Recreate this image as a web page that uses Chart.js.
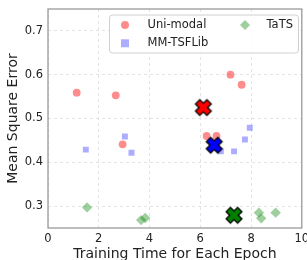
<!DOCTYPE html>
<html>
<head>
<meta charset="utf-8">
<script src="https://cdn.jsdelivr.net/npm/chart.js@4.4.1/dist/chart.umd.min.js"></script>
<style>
  html, body { margin: 0; padding: 0; background: #fff; }
</style>
</head>
<body>
<canvas id="chart" width="307" height="260"></canvas>
<script>
// data
const uniX  = [1.13, 2.67, 7.19, 7.63, 2.94, 6.25, 6.64];
const uniY  = [0.559, 0.553, 0.600, 0.577, 0.441, 0.460, 0.460];
const mmX   = [1.49, 3.03, 3.29, 6.81, 7.33, 7.76, 7.95];
const mmY   = [0.429, 0.459, 0.422, 0.425, 0.425, 0.452, 0.479];
const tatsX = [1.54, 3.67, 3.83, 8.31, 8.40, 8.97];
const tatsY = [0.297, 0.268, 0.273, 0.285, 0.272, 0.285];
// averages (big X markers)
const avgX = [6.12, 6.55, 7.33];
const avgY = [0.525, 0.439, 0.279];

const xTicks = [0, 2, 4, 6, 8, 10];
const yTicks = [0.3, 0.4, 0.5, 0.6, 0.7];

const FONT = 'DejaVu Sans';
const red = 'rgba(255,0,0,0.45)';
const blue = 'rgba(0,0,255,0.32)';
const green = 'rgba(0,128,0,0.38)';

function toPts(xs, ys) {
    return xs.map((x, i) => ({ x: x, y: ys[i] }));
}

// filled X marker with black outline
function makeX(color) {
    const c = document.createElement('canvas');
    c.width = 20; c.height = 20;
    const g = c.getContext('2d');
    const d = 3.6;
    g.lineCap = 'square';
    const cross = (w, col) => {
        g.strokeStyle = col;
        g.lineWidth = w;
        g.beginPath();
        g.moveTo(10 - d, 10 - d); g.lineTo(10 + d, 10 + d);
        g.moveTo(10 + d, 10 - d); g.lineTo(10 - d, 10 + d);
        g.stroke();
    };
    cross(7.4, '#000');
    cross(4.8, color);
    return c;
}

const frameAndLegend = {
    id: 'frameAndLegend',
    afterDatasetsDraw(chart) {
        const { ctx, chartArea: a } = chart;
        ctx.save();
        ctx.strokeStyle = '#9a9a9a';
        ctx.lineWidth = 1.3;
        ctx.strokeRect(a.left, a.top, a.right - a.left, a.bottom - a.top);

        // legend box
        const bx = 109.5, by = 15, bw = 189, bh = 38;
        ctx.fillStyle = 'rgba(255,255,255,0.9)';
        ctx.strokeStyle = '#d0d0d0';
        ctx.lineWidth = 1;
        ctx.beginPath();
        ctx.roundRect(bx, by, bw, bh, 3);
        ctx.fill();
        ctx.stroke();

        ctx.font = '11.5px ' + FONT;
        ctx.textBaseline = 'middle';
        ctx.textAlign = 'left';

        // Uni-modal
        ctx.fillStyle = red;
        ctx.beginPath(); ctx.arc(125, 25, 4, 0, Math.PI * 2); ctx.fill();
        // MM-TSFLib
        ctx.fillStyle = blue;
        ctx.fillRect(121, 39.3, 8, 8);
        // TaTS
        ctx.fillStyle = green;
        ctx.beginPath();
        ctx.moveTo(245, 20); ctx.lineTo(250, 25); ctx.lineTo(245, 30); ctx.lineTo(240, 25);
        ctx.closePath(); ctx.fill();

        ctx.fillStyle = '#222';
        ctx.fillText('Uni-modal', 147.5, 25.5);
        ctx.fillText('MM-TSFLib', 147.5, 43.5);
        ctx.fillText('TaTS', 266.5, 25.5);
        ctx.restore();
    }
};

new Chart(document.getElementById('chart'), {
    type: 'scatter',
    data: {
        datasets: [
            { label: 'Uni-modal', data: toPts(uniX, uniY), backgroundColor: red, borderWidth: 0, pointRadius: 3.9, pointStyle: 'circle', order: 2 },
            { label: 'MM-TSFLib', data: toPts(mmX, mmY), backgroundColor: blue, borderWidth: 0, pointRadius: 4.2, pointStyle: 'rect', order: 2 },
            { label: 'TaTS', data: toPts(tatsX, tatsY), backgroundColor: green, borderWidth: 0, pointRadius: 5.2, pointStyle: 'rectRot', order: 2 },
            { label: 'avg uni', data: [{ x: avgX[0], y: avgY[0] }], pointStyle: makeX('#ff0000'), order: 1 },
            { label: 'avg mm', data: [{ x: avgX[1], y: avgY[1] }], pointStyle: makeX('#0000ff'), order: 1 },
            { label: 'avg tats', data: [{ x: avgX[2], y: avgY[2] }], pointStyle: makeX('#008000'), order: 1 }
        ]
    },
    options: {
        responsive: false,
        animation: false,
        events: [],
        layout: { padding: { top: 9, right: 4, left: 0, bottom: 0 } },
        plugins: { legend: { display: false }, tooltip: { enabled: false } },
        scales: {
            x: {
                type: 'linear',
                min: 0, max: 10,
                afterBuildTicks: s => { s.ticks = xTicks.map(v => ({ value: v })); },
                afterFit: s => { s.height = 32; s.paddingLeft = 0; s.paddingRight = 0; },
                grid: { color: '#dddddd', lineWidth: 0.8, drawTicks: false },
                border: { display: false, dash: [3, 3] },
                ticks: { color: '#222', padding: 4, font: { family: FONT, size: 11.5 }, maxRotation: 0 },
                title: { display: true, text: 'Training Time for Each Epoch', color: '#222', font: { family: FONT, size: 14 }, padding: { top: 0, bottom: -3 } }
            },
            y: {
                type: 'linear',
                min: 0.25, max: 0.75,
                afterBuildTicks: s => { s.ticks = yTicks.map(v => ({ value: v })); },
                afterFit: s => { s.width = 48; s.paddingTop = 0; s.paddingBottom = 0; },
                grid: { color: '#dddddd', lineWidth: 0.8, drawTicks: false },
                border: { display: false, dash: [3, 3] },
                ticks: { color: '#222', padding: 5, font: { family: FONT, size: 11.5 }, callback: v => v.toFixed(1) },
                title: { display: true, text: 'Mean Square Error', color: '#222', font: { family: FONT, size: 14 }, padding: { top: 5, bottom: 0 } }
            }
        }
    },
    plugins: [frameAndLegend]
});
</script>
</body>
</html>
